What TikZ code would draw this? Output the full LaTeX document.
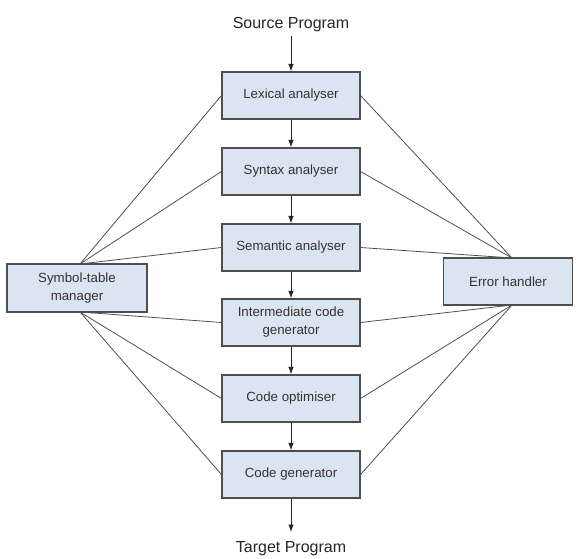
\documentclass[tikz,border=0pt]{standalone}
\usepackage{fontspec}
\setmainfont{Liberation Sans}
\usetikzlibrary{arrows.meta}
\definecolor{boxfill}{HTML}{DBE5F1}
\definecolor{edge}{HTML}{4F4F4F}
\begin{document}
\begin{tikzpicture}[x=1pt,y=-1pt,
  phase/.style={draw=edge,line width=1.1pt,fill=boxfill,minimum width=138pt,minimum height=47pt,inner sep=2pt,align=center,text=black!80,font=\fontsize{13.3}{18}\selectfont},
  side/.style={phase},
  title/.style={font=\fontsize{16}{19}\selectfont,text=black!85},
  link/.style={draw=edge,line width=0.8pt},
  flow/.style={draw=black!85,line width=0.9pt,-{Latex[length=7.5pt,width=5.5pt]}}]
\useasboundingbox (0,0) rectangle (579,559);
\node[title] (src) at (291,25) {Source Program};
\node[phase] (lex) at (291,95.5) {Lexical analyser};
\node[phase] (syn) at (291,171.5) {Syntax analyser};
\node[phase] (sem) at (291,247.5) {Semantic analyser};
\node[phase] (icg) at (291,322.5) {Intermediate code\\generator};
\node[phase] (opt) at (291,398.5) {Code optimiser};
\node[phase] (gen) at (291,474.5) {Code generator};
\node[title] (tgt) at (291,549) {Target Program};
\node[side,minimum width=140pt,minimum height=48pt] (sym) at (77,288) {Symbol-table\\manager};
\node[side,minimum width=129pt] (err) at (508,281.5) {Error handler};
\coordinate (st) at (80,264);
\coordinate (sb) at (80,312);
\coordinate (et) at (512,258);
\coordinate (eb) at (512,305);
\coordinate (tend) at (291,532);
\foreach \n in {lex,syn,sem} {
  \draw[link] (st) -- (\n.west);
  \draw[link] (et) -- (\n.east);
}
\foreach \n in {icg,opt,gen} {
  \draw[link] (sb) -- (\n.west);
  \draw[link] (eb) -- (\n.east);
}
\draw[flow] (src.south) -- (lex.north);
\draw[flow] (lex) -- (syn);
\draw[flow] (syn) -- (sem);
\draw[flow] (sem) -- (icg);
\draw[flow] (icg) -- (opt);
\draw[flow] (opt) -- (gen);
\draw[flow] (gen.south) -- (tend);
\end{tikzpicture}
\end{document}
